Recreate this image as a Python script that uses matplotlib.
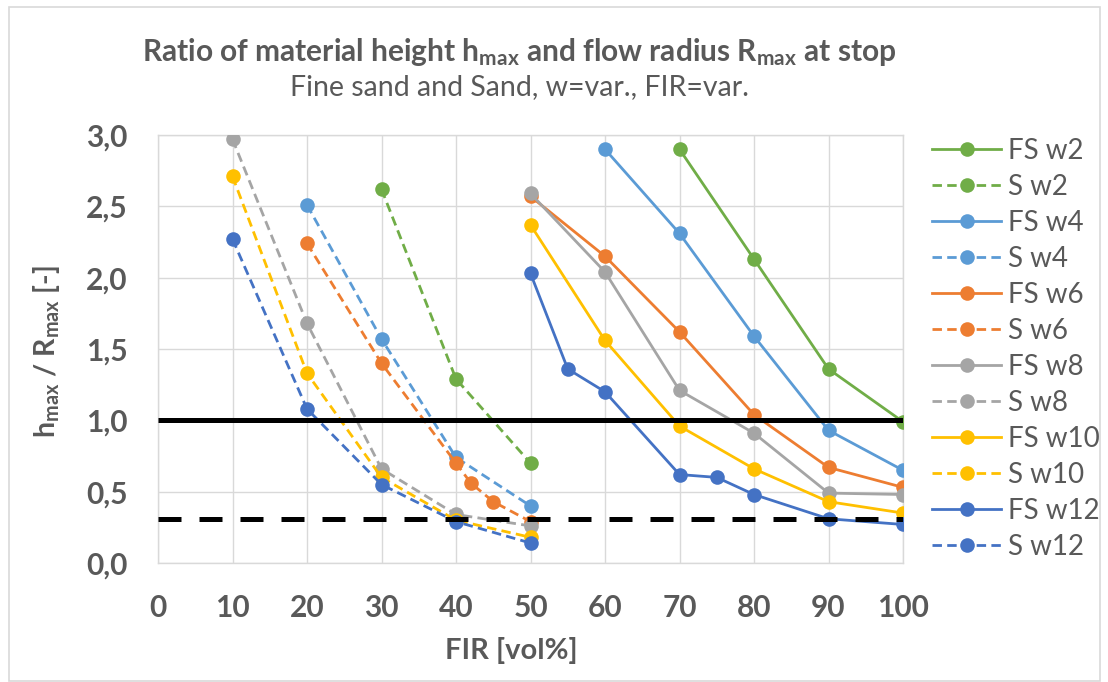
import matplotlib
matplotlib.use("Agg")
import matplotlib.pyplot as plt
from matplotlib.patches import Rectangle
from matplotlib.ticker import FuncFormatter

plt.rcParams["font.family"] = ["Lato", "DejaVu Sans"]
plt.rcParams["mathtext.fontset"] = "custom"
plt.rcParams["mathtext.rm"] = "Lato"
plt.rcParams["mathtext.it"] = "Lato:italic"
plt.rcParams["mathtext.bf"] = "Lato:bold"

# ---- data: FIR [vol%] and h_max / R_max [-] per series ----
fs_w2_x = [70, 80, 90, 100]
fs_w2_y = [2.90, 2.13, 1.36, 0.99]
s_w2_x = [30, 40, 50]
s_w2_y = [2.62, 1.29, 0.70]

fs_w4_x = [60, 70, 80, 90, 100]
fs_w4_y = [2.90, 2.31, 1.59, 0.93, 0.65]
s_w4_x = [20, 30, 40, 50]
s_w4_y = [2.51, 1.57, 0.74, 0.40]

fs_w6_x = [50, 60, 70, 80, 90, 100]
fs_w6_y = [2.57, 2.15, 1.62, 1.04, 0.67, 0.53]
s_w6_x = [20, 30, 40, 42, 45, 50]
s_w6_y = [2.24, 1.40, 0.70, 0.56, 0.43, 0.29]

fs_w8_x = [50, 60, 70, 80, 90, 100]
fs_w8_y = [2.59, 2.04, 1.21, 0.91, 0.49, 0.48]
s_w8_x = [10, 20, 30, 40, 50]
s_w8_y = [2.97, 1.68, 0.66, 0.34, 0.26]

fs_w10_x = [50, 60, 70, 80, 90, 100]
fs_w10_y = [2.37, 1.56, 0.96, 0.66, 0.43, 0.35]
s_w10_x = [10, 20, 30, 40, 50]
s_w10_y = [2.71, 1.33, 0.60, 0.30, 0.18]

fs_w12_x = [50, 55, 60, 70, 75, 80, 90, 100]
fs_w12_y = [2.03, 1.36, 1.20, 0.62, 0.60, 0.48, 0.31, 0.27]
s_w12_x = [10, 20, 30, 40, 50]
s_w12_y = [2.27, 1.08, 0.55, 0.29, 0.14]

# reference levels
ref_solid = 1.0
ref_dashed = 0.31
ref_span = [0, 100]

x_ticks = [0, 10, 20, 30, 40, 50, 60, 70, 80, 90, 100]
y_ticks = [0.0, 0.5, 1.0, 1.5, 2.0, 2.5, 3.0]

series = [
    ("FS w2", fs_w2_x, fs_w2_y, "#70AD47", "-"),
    ("S w2", s_w2_x, s_w2_y, "#70AD47", "--"),
    ("FS w4", fs_w4_x, fs_w4_y, "#5B9BD5", "-"),
    ("S w4", s_w4_x, s_w4_y, "#5B9BD5", "--"),
    ("FS w6", fs_w6_x, fs_w6_y, "#ED7D31", "-"),
    ("S w6", s_w6_x, s_w6_y, "#ED7D31", "--"),
    ("FS w8", fs_w8_x, fs_w8_y, "#A5A5A5", "-"),
    ("S w8", s_w8_x, s_w8_y, "#A5A5A5", "--"),
    ("FS w10", fs_w10_x, fs_w10_y, "#FFC000", "-"),
    ("S w10", s_w10_x, s_w10_y, "#FFC000", "--"),
    ("FS w12", fs_w12_x, fs_w12_y, "#4472C4", "-"),
    ("S w12", s_w12_x, s_w12_y, "#4472C4", "--"),
]

W, H = 1108, 682
fig = plt.figure(figsize=(W / 100, H / 100), dpi=100)
fig.patches.append(Rectangle((9 / W, 1 - 681 / H), (1100 - 9) / W, (681 - 7) / H,
                             transform=fig.transFigure, fill=False,
                             edgecolor="#D9D9D9", linewidth=1.2))

left, right, top, bottom = 158, 903, 135, 563
ax = fig.add_axes([left / W, 1 - bottom / H, (right - left) / W, (bottom - top) / H])

text_col = "#595959"
grid_col = "#D9D9D9"

for i, (name, xs, ys, col, ls) in enumerate(series):
    kw = dict(color=col, linewidth=2.0, marker="o", markersize=10.5,
              markeredgewidth=0, label=name, zorder=3 + i * 0.01)
    if ls == "--":
        kw["linestyle"] = (0, (3.4, 1.9))
    ax.plot(xs, ys, **kw)

ax.plot(ref_span, [ref_solid, ref_solid], color="black", linewidth=3.6,
        solid_capstyle="butt", zorder=5)
ax.plot(ref_span, [ref_dashed, ref_dashed], color="black", linewidth=3.6,
        linestyle=(0, (4.6, 3.6)), zorder=5)

ax.set_xlim(0, 100)
ax.set_ylim(0, 3.0)
ax.set_xticks(x_ticks)
ax.set_yticks(y_ticks)
ax.yaxis.set_major_formatter(FuncFormatter(lambda v, p: f"{v:.1f}".replace(".", ",")))
ax.grid(True, color=grid_col, linewidth=1.0, zorder=0)
ax.set_axisbelow(True)
for sp in ax.spines.values():
    sp.set_color(grid_col)
    sp.set_linewidth(1.0)
ax.tick_params(length=0, labelsize=21.5, labelcolor=text_col)
ax.tick_params(axis="y", pad=22)
ax.tick_params(axis="x", pad=22)
for lab in ax.get_xticklabels() + ax.get_yticklabels():
    lab.set_fontweight("bold")

fig.text(511 / W, 1 - 650 / H, "FIR [vol%]", ha="center",
         va="center", fontsize=21, fontweight="bold", color=text_col)
fig.text(47 / W, 1 - 351 / H, r"h$_{\mathbf{max}}$ / R$_{\mathbf{max}}$ [-]",
         rotation=90, ha="center", va="center", fontsize=20.5, fontweight="bold",
         color=text_col)

fig.text(519 / W, 1 - 61 / H,
         r"Ratio of material height h$_{\mathbf{max}}$ and flow radius R$_{\mathbf{max}}$ at stop",
         ha="center", va="baseline", fontsize=21.5, fontweight="bold", color=text_col)
fig.text(519 / W, 1 - 95 / H, "Fine sand and Sand, w=var., FIR=var.",
         ha="center", va="baseline", fontsize=20.5, color=text_col)

leg = ax.legend(loc="upper left", bbox_to_anchor=(932 / W, 1 - 138 / H),
                bbox_transform=fig.transFigure, frameon=False, fontsize=20,
                handlelength=2.5, handletextpad=0.25, labelspacing=0.36,
                borderpad=0, borderaxespad=0)
for t in leg.get_texts():
    t.set_color(text_col)

fig.savefig("out.png", dpi=100)
